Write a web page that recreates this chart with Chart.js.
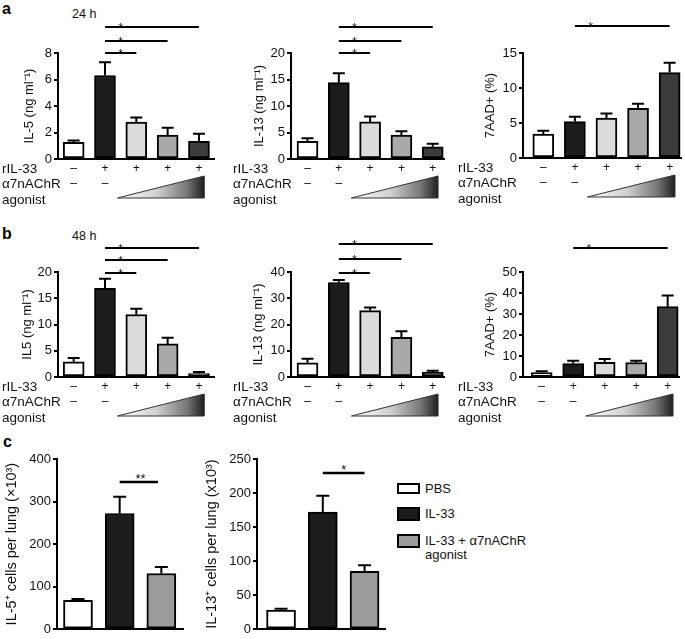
<!DOCTYPE html>
<html><head><meta charset="utf-8">
<script src="https://cdn.jsdelivr.net/npm/chart.js@4.4.1/dist/chart.umd.min.js"></script>
<style>
html,body{margin:0;padding:0;background:#fff;}
body{width:685px;height:639px;position:relative;overflow:hidden;font-family:'Liberation Sans',Arial,Helvetica,sans-serif;color:#111;}
canvas{position:absolute;}
.t{position:absolute;white-space:nowrap;line-height:1;color:#111;}
.lb{position:absolute;font-weight:bold;font-size:16px;line-height:16px;color:#000;}
.box{position:absolute;box-sizing:border-box;border:2.5px solid #000;}
.lt{position:absolute;font-size:13px;line-height:14px;white-space:nowrap;color:#111;}
</style></head><body>
<div class="lb" style="left:2px;top:1px">a</div>
<div class="lb" style="left:2px;top:226px">b</div>
<div class="lb" style="left:3px;top:434px">c</div>
<div class="t" style="left:72px;top:8px;font-size:12.5px;line-height:12px">24 h</div>
<div class="t" style="left:72px;top:230px;font-size:12.5px;line-height:12px">48 h</div>
<div id="legend"></div>
<script>
// ---------- DATA ----------
const groups5 = ['Control', 'rIL-33', 'rIL-33 + agonist (low)', 'rIL-33 + agonist (mid)', 'rIL-33 + agonist (high)'];
const rIL33Signs = ['–', '+', '+', '+', '+'];
const agonistSigns = ['–', '–', '', '', ''];
const groups3 = ['PBS', 'IL-33', 'IL-33 + α7nAChR|agonist'];

// 24 h
const il5_24h      = [1.25, 6.3, 2.78, 1.8, 1.33];
const il5_24h_err  = [0.15, 1.0, 0.36, 0.55, 0.57];
const il13_24h     = [3.35, 14.4, 7.0, 4.5, 2.3];
const il13_24h_err = [0.55, 1.8, 1.0, 0.75, 0.6];
const aad_24h      = [3.4, 5.2, 5.7, 7.1, 12.2];
const aad_24h_err  = [0.5, 0.7, 0.65, 0.65, 1.4];
// 48 h
const il5_48h      = [2.9, 16.9, 11.9, 6.3, 0.65];
const il5_48h_err  = [0.7, 1.8, 1.1, 1.2, 0.3];
const il13_48h     = [5.4, 36.0, 25.3, 15.1, 1.9];
const il13_48h_err = [1.6, 1.0, 1.2, 2.3, 0.5];
const aad_48h      = [2.1, 6.4, 7.0, 6.9, 33.5];
const aad_48h_err  = [0.6, 1.3, 1.6, 0.8, 5.3];
// lung (c)
const il5_lung      = [68, 272, 131];
const il5_lung_err  = [3, 39, 15];
const il13_lung     = [28, 172, 85];
const il13_lung_err = [2, 24, 9];

// significance brackets: [fromIndex, toIndex, level (data units), label]
const sig_il5_24h  = [[1, 4, 10, '*'], [1, 3, 8.9, '*'], [1, 2, 8, '*']];
const sig_il13_24h = [[1, 4, 25, '*'], [1, 3, 22.2, '*'], [1, 2, 20, '*']];
const sig_aad_24h  = [[1, 4, 18.8, '*']];
const sig_il5_48h  = [[1, 4, 24.6, '*'], [1, 3, 22.3, '*'], [1, 2, 19.9, '*']];
const sig_il13_48h = [[1, 4, 50.5, '*'], [1, 3, 44.8, '*'], [1, 2, 39.8, '*']];
const sig_aad_48h  = [[1, 4, 61.4, '*']];
const sig_il5_lung  = [[1, 1.92, 345, '**']];
const sig_il13_lung = [[1, 2, 230, '*']];

// y-axis ticks
const ticks_il5_24h = {max: 8, step: 2};
const ticks_il13_24h = {max: 20, step: 5};
const ticks_aad_24h = {max: 15, step: 5};
const ticks_il5_48h = {max: 20, step: 5};
const ticks_il13_48h = {max: 40, step: 10};
const ticks_aad_48h = {max: 50, step: 10};
const ticks_il5_lung = {max: 400, step: 100};
const ticks_il13_lung = {max: 250, step: 50};

// ---------- STYLE / LAYOUT ----------
const FONT = "'Liberation Sans', Arial, Helvetica, sans-serif";
const colors5 = ['#ffffff', '#1c1c1c', '#dcdcdc', '#a9a9a9', '#3c3c3c'];
const colors3 = ['#ffffff', '#1c1c1c', '#9c9c9c'];

const panels = [
  {rect:[0,0,228,215],   area:[58,53,214,159],  values:il5_24h,  errors:il5_24h_err,  colors:colors5, tk:ticks_il5_24h,  title:'IL-5 (ng ml⁻¹)',  sig:sig_il5_24h,  xr:[-0.5,4.48],   tOff:29,   tSize:13, bw:21, cap:12, rows:true, rowX:2},
  {rect:[228,0,228,215], area:[291,53,444,159], values:il13_24h, errors:il13_24h_err, colors:colors5, tk:ticks_il13_24h, title:'IL-13 (ng ml⁻¹)', sig:sig_il13_24h, xr:[-0.527,4.36], tOff:31.5, tSize:13, bw:21, cap:12, rows:true, rowX:5},
  {rect:[456,0,229,215], area:[523,53,681,158], values:aad_24h,  errors:aad_24h_err,  colors:colors5, tk:ticks_aad_24h,  title:'7AAD+ (%)',      sig:sig_aad_24h,  xr:[-0.643,4.36], tOff:33,   tSize:13, bw:21, cap:12, rows:true, rowX:2},
  {rect:[0,222,228,205],   area:[58,272,214,377],  values:il5_48h,  errors:il5_48h_err,  colors:colors5, tk:ticks_il5_48h,  title:'IL5 (ng ml⁻¹)',   sig:sig_il5_48h,  xr:[-0.5,4.48],   tOff:31, tSize:13, bw:21, cap:12, rows:true, rowX:2},
  {rect:[228,222,228,205], area:[291,272,444,377], values:il13_48h, errors:il13_48h_err, colors:colors5, tk:ticks_il13_48h, title:'IL-13 (ng ml⁻¹)', sig:sig_il13_48h, xr:[-0.527,4.36], tOff:33, tSize:13, bw:21, cap:12, rows:true, rowX:5},
  {rect:[456,222,229,205], area:[523,272,679,377], values:aad_48h,  errors:aad_48h_err,  colors:colors5, tk:ticks_aad_48h,  title:'7AAD+ (%)',      sig:sig_aad_48h,  xr:[-0.594,4.36], tOff:33, tSize:13, bw:21, cap:12, rows:true, rowX:2},
  {rect:[0,430,200,209],   area:[57,459,183,632],  values:il5_lung,  errors:il5_lung_err,  colors:colors3, tk:ticks_il5_lung,  title:'IL-5⁺ cells per lung (×10³)',  sig:sig_il5_lung,  xr:[-0.504,2.52], tOff:45, tSize:14.5, bw:29, cap:13, rows:false},
  {rect:[200,430,190,209], area:[257,459,385,632], values:il13_lung, errors:il13_lung_err, colors:colors3, tk:ticks_il13_lung, title:'IL-13⁺ cells per lung (x10³)', sig:sig_il13_lung, xr:[-0.576,2.49], tOff:45, tSize:14.5, bw:29, cap:13, rows:false}
];

const annot = {
  id: 'annot',
  afterDatasetsDraw(chart, args, o) {
    const p = o.panel, ctx = chart.ctx, xs = chart.scales.x, ys = chart.scales.y, ca = chart.chartArea;
    ctx.save();
    ctx.strokeStyle = '#000';
    ctx.fillStyle = '#111';
    // error bars (upper)
    ctx.lineWidth = 2;
    p.values.forEach((v, i) => {
      const x = xs.getPixelForValue(i);
      const y0 = ys.getPixelForValue(v), y1 = ys.getPixelForValue(v + p.errors[i]);
      ctx.beginPath();
      ctx.moveTo(x, y0); ctx.lineTo(x, y1);
      ctx.moveTo(x - p.cap / 2, y1); ctx.lineTo(x + p.cap / 2, y1);
      ctx.stroke();
    });
    // significance lines
    const big = !p.rows;
    ctx.lineWidth = big ? 2.5 : 2;
    ctx.textAlign = 'center';
    ctx.textBaseline = 'alphabetic';
    ctx.font = (big ? 13 : 12.5) + 'px ' + FONT;
    p.sig.forEach(([a, b, lvl, lab]) => {
      const y = Math.round(ys.getPixelForValue(lvl));
      ctx.beginPath();
      ctx.moveTo(xs.getPixelForValue(a), y); ctx.lineTo(xs.getPixelForValue(b), y);
      ctx.stroke();
      ctx.fillText(lab, xs.getPixelForValue(a + 0.5), y + (big ? 1 : 4.5));
    });
    if (p.rows) {
      const yb = ca.bottom;
      ctx.textBaseline = 'middle';
      ctx.textAlign = 'left';
      ctx.font = '13.5px ' + FONT;
      ctx.fillText('rIL-33', p.rowX, yb + 10);
      ctx.fillText('α7nAChR', p.rowX, yb + 25);
      ctx.fillText('agonist', p.rowX, yb + 41);
      ctx.textAlign = 'center';
      ctx.font = '12px ' + FONT;
      rIL33Signs.forEach((s, i) => { if (s) ctx.fillText(s, xs.getPixelForValue(i), yb + 10); });
      agonistSigns.forEach((s, i) => { if (s) ctx.fillText(s, xs.getPixelForValue(i), yb + 25); });
      // dose triangle
      const xl = xs.getPixelForValue(1.4), xr = xs.getPixelForValue(4.17);
      const tb = yb + 39, tt = yb + 17;
      const g = ctx.createLinearGradient(xl, 0, xr, 0);
      g.addColorStop(0, '#ffffff');
      g.addColorStop(0.45, '#d0d0d0');
      g.addColorStop(0.8, '#767676');
      g.addColorStop(1, '#1e1e1e');
      ctx.beginPath();
      ctx.moveTo(xl, tb); ctx.lineTo(xr, tt); ctx.lineTo(xr, tb); ctx.closePath();
      ctx.fillStyle = g; ctx.fill();
      ctx.lineWidth = 1; ctx.strokeStyle = '#333'; ctx.stroke();
    }
    ctx.restore();
  }
};

panels.forEach((p) => {
  const [rx, ry, rw, rh] = p.rect;
  const [al, at, ar, ab] = p.area;
  const cv = document.createElement('canvas');
  cv.width = rw; cv.height = rh;
  cv.style.left = rx + 'px'; cv.style.top = ry + 'px';
  cv.style.width = rw + 'px'; cv.style.height = rh + 'px';
  document.body.appendChild(cv);
  const yW = p.tOff + p.tSize * 1.2 / 2;
  new Chart(cv, {
    type: 'bar',
    data: {
      datasets: [{
        label: p.title,
        data: p.values.map((v, i) => ({x: i, y: v})),
        backgroundColor: p.colors,
        borderColor: '#000',
        borderWidth: 2,
        borderSkipped: false,
        barThickness: p.bw
      }]
    },
    options: {
      responsive: false,
      animation: false,
      devicePixelRatio: 1,
      layout: {padding: {left: al - rx - yW, top: at - ry, right: rx + rw - ar, bottom: ry + rh - ab}},
      plugins: {legend: {display: false}, tooltip: {enabled: false}, annot: {panel: p}},
      scales: {
        x: {
          type: 'linear', offset: false, min: p.xr[0], max: p.xr[1],
          ticks: {display: false, stepSize: 1},
          grid: {display: false},
          border: {display: true, color: '#000', width: 2},
          afterFit(s) { s.height = 0; }
        },
        y: {
          min: 0, max: p.tk.max,
          ticks: {stepSize: p.tk.step, font: {family: FONT, size: 13}, color: '#111', padding: 2},
          grid: {display: true, drawOnChartArea: false, drawTicks: true, tickLength: 4, color: '#000', lineWidth: 2},
          border: {display: true, color: '#000', width: 2},
          title: {display: true, text: p.title, font: {family: FONT, size: p.tSize}, color: '#111', padding: 0},
          afterFit(s) { s.width = yW; }
        }
      }
    },
    plugins: [annot]
  });
});

// legend for panel c
const legendTops = [483, 507, 534];
const legendH = [11, 13.5, 14];
const leg = document.getElementById('legend');
groups3.forEach((g, i) => {
  const b = document.createElement('div');
  b.className = 'box';
  b.style.cssText = `left:397px;top:${legendTops[i]}px;width:23px;height:${legendH[i]}px;background:${colors3[i]}`;
  leg.appendChild(b);
  const t = document.createElement('div');
  t.className = 'lt';
  t.style.left = '425px';
  t.style.top = (legendTops[i] + legendH[i] / 2 - 7) + 'px';
  t.innerHTML = g.split('|').join('<br>');
  leg.appendChild(t);
});
</script>
</body></html>
